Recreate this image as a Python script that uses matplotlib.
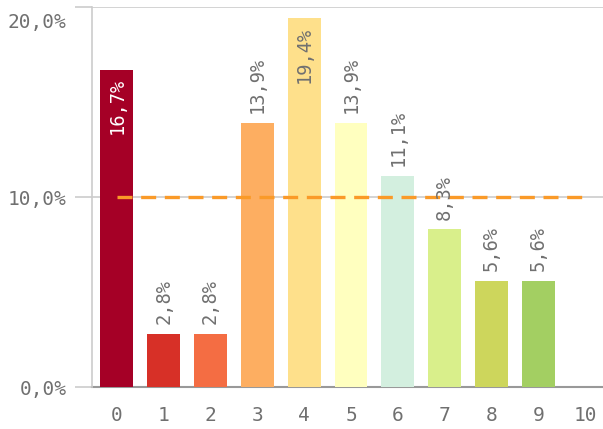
import matplotlib
matplotlib.use("Agg")
import matplotlib.pyplot as plt
import matplotlib.transforms as mtransforms

categories = [0, 1, 2, 3, 4, 5, 6, 7, 8, 9]
shares = [16.7, 2.8, 2.8, 13.9, 19.4, 13.9, 11.1, 8.3, 5.6, 5.6]
barColours = ["#a50026", "#d73027", "#f46d43", "#fdae61", "#fee08b",
              "#ffffbf", "#d3efdf", "#d9ef8b", "#cdd65c", "#a3cf62"]
insideColours = {0: "white", 4: "#707070"}  # bars whose label sits inside the bar
averageLevel = 10.0
xTicks = list(range(11))
yTicks = [0, 10, 20]

fontName = "DejaVu Sans Mono"
textColour = "#707070"

fig = plt.figure(figsize = (6.03, 4.29), dpi = 100, facecolor = "white")
ax = fig.add_axes([92 / 603, 42 / 429, 511 / 603, 380 / 429])

ax.bar(categories, shares, width = 0.7, color = barColours, zorder = 2)

ax.plot([xTicks[0], xTicks[-1]], [averageLevel, averageLevel], color = "#fa9a28",
        linewidth = 2.4, dashes = (4.5, 2.6), zorder = 3)

# value labels
for x, v in zip(categories, shares):
    text = f"{v:.1f}%".replace(".", ",")
    if x in insideColours:
        ax.annotate(text, (x, v), xytext = (0, -6), textcoords = "offset points",
                    rotation = 90, ha = "center", va = "top", color = insideColours[x],
                    fontsize = 13.5, fontfamily = fontName, zorder = 4)
    else:
        ax.annotate(text, (x, v), xytext = (0, 7), textcoords = "offset points",
                    rotation = 90, ha = "center", va = "bottom", color = textColour,
                    fontsize = 13.5, fontfamily = fontName, zorder = 4)

ax.set_xlim(-0.53, 10.38)
ax.set_ylim(0, 20)

ax.set_xticks(xTicks)
ax.set_xticklabels([str(t) for t in xTicks])
ax.set_yticks(yTicks)
ax.set_yticklabels([f"{t:.1f}%".replace(".", ",") for t in yTicks])

ax.tick_params(axis = "x", length = 0, pad = 14, labelsize = 14, labelcolor = textColour)
ax.tick_params(axis = "y", length = 12.5, width = 1.2, color = "#cccccc", pad = 6,
               labelsize = 14, labelcolor = textColour)
for lab in ax.get_xticklabels() + ax.get_yticklabels():
    lab.set_fontfamily(fontName)

# top label sits lower to stay inside the figure
topLabel = ax.get_yticklabels()[-1]
topLabel.set_transform(topLabel.get_transform() + mtransforms.ScaledTranslation(0, -10 / 72, fig.dpi_scale_trans))

ax.yaxis.grid(True, color = "#cccccc", linewidth = 1.2, zorder = 1)
ax.set_axisbelow(True)

for side in ["top", "right"]:
    ax.spines[side].set_visible(False)
ax.spines["left"].set_color("#cccccc")
ax.spines["left"].set_linewidth(1.2)
ax.spines["bottom"].set_color("#999999")
ax.spines["bottom"].set_linewidth(1.5)
ax.spines["bottom"].set_zorder(1)

fig.savefig("out.png", dpi = 100, facecolor = fig.get_facecolor())
